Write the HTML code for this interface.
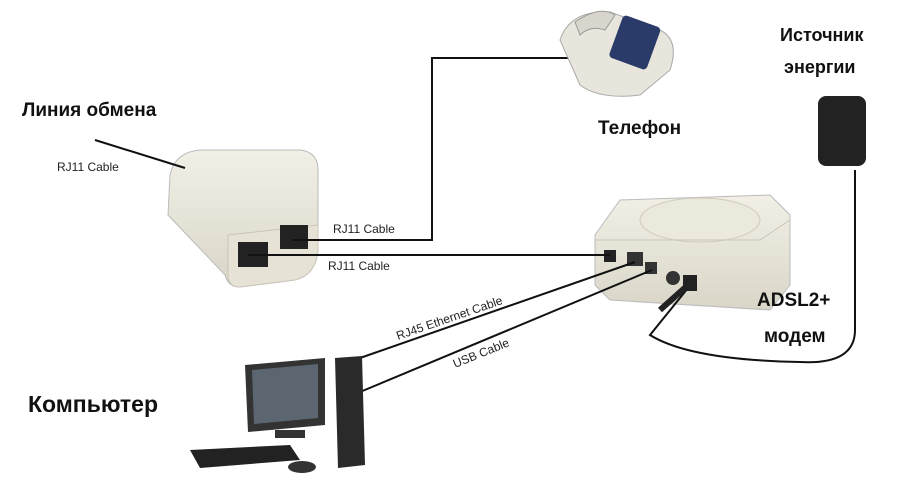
<!DOCTYPE html>
<html><head><meta charset="utf-8"><style>
body{margin:0;background:#fff;width:900px;height:482px;overflow:hidden}
svg{display:block}
.b{font-family:"Liberation Sans",sans-serif;font-weight:bold;fill:#111}
.s{font-family:"Liberation Sans",sans-serif;font-size:12px;fill:#222}
</style></head><body>
<svg width="900" height="482" viewBox="0 0 900 482">
<defs>
<linearGradient id="beige" x1="0" y1="0" x2="0" y2="1"><stop offset="0" stop-color="#f2f0e6"/><stop offset="1" stop-color="#d9d6c8"/></linearGradient>
</defs>
<!-- splitter -->
<path d="M170,175 Q175,152 200,150 L300,150 Q318,152 318,170 L318,250 Q316,275 295,280 L240,287 Q228,287 225,275 L168,215 Z" fill="url(#beige)" stroke="#bbb"/>
<path d="M228,235 L318,225 L318,250 Q316,275 295,280 L240,287 Q228,287 228,275 Z" fill="#e6e3d6" stroke="#c8c5b8"/>
<rect x="238" y="242" width="30" height="25" fill="#222"/>
<rect x="280" y="225" width="28" height="24" fill="#222"/>
<!-- modem -->
<path d="M595,235 L620,200 L770,195 L790,215 L790,285 L770,310 L610,300 L595,285 Z" fill="url(#beige)" stroke="#bbb"/>
<ellipse cx="700" cy="220" rx="60" ry="22" fill="#ebe8dc" stroke="#cfccbf"/>
<path d="M595,240 L760,240 L790,220" fill="none" stroke="#c8c5b8"/>
<rect x="604" y="250" width="12" height="12" fill="#222"/>
<rect x="627" y="252" width="16" height="14" fill="#333"/>
<rect x="645" y="262" width="12" height="12" fill="#333"/>
<circle cx="673" cy="278" r="7" fill="#333"/>
<rect x="683" y="275" width="14" height="16" fill="#222"/>
<!-- lines -->
<g stroke="#111" stroke-width="2" fill="none">
<line x1="95" y1="140" x2="185" y2="168"/>
<polyline points="292,240 432,240 432,58 580,58"/>
<line x1="248" y1="255" x2="610" y2="255"/>
<line x1="360" y1="358" x2="635" y2="262"/>
<line x1="360" y1="392" x2="652" y2="270"/>
<path d="M855,170 L855,330 Q855,365 800,362 Q690,360 650,335 L688,288"/>
</g>
<line x1="660" y1="310" x2="688" y2="285" stroke="#222" stroke-width="6"/>
<!-- phone -->
<path d="M560,40 Q570,10 610,12 L660,30 Q680,40 670,70 L640,95 Q600,100 580,85 Z" fill="#e8e6dc" stroke="#aaa"/>
<path d="M575,22 Q600,5 615,15 L605,30 Q590,25 580,35 Z" fill="#d8d6cc" stroke="#999"/>
<rect x="615" y="20" width="40" height="45" rx="4" fill="#2a3b6a" transform="rotate(20 635 42)"/>
<!-- power -->
<rect x="818" y="96" width="48" height="70" rx="8" fill="#222"/>
<!-- computer -->
<path d="M245,365 L325,358 L325,425 L248,432 Z" fill="#333"/>
<path d="M252,370 L318,364 L318,418 L254,424 Z" fill="#5c6670"/>
<path d="M335,358 L362,356 L365,465 L338,468 Z" fill="#2a2a2a"/>
<path d="M190,450 L290,445 L300,460 L200,468 Z" fill="#222"/>
<ellipse cx="302" cy="467" rx="14" ry="6" fill="#333"/>
<rect x="275" y="430" width="30" height="8" fill="#333"/>
<!-- text -->
<text class="b" x="22" y="116" font-size="19">Линия обмена</text>
<text class="s" x="57" y="171">RJ11 Cable</text>
<text class="s" x="333" y="233">RJ11 Cable</text>
<text class="s" x="328" y="270">RJ11 Cable</text>
<text class="b" x="598" y="134" font-size="19">Телефон</text>
<text class="b" x="780" y="41" font-size="18">Источник</text>
<text class="b" x="784" y="73" font-size="18">энергии</text>
<text class="b" x="757" y="306" font-size="19">ADSL2+</text>
<text class="b" x="764" y="342" font-size="19">модем</text>
<text class="b" x="28" y="412" font-size="23">Компьютер</text>
<text class="s" x="398" y="340" transform="rotate(-19 398 340)">RJ45 Ethernet Cable</text>
<text class="s" x="455" y="368" transform="rotate(-22 455 368)">USB Cable</text>
</svg>
</body></html>
